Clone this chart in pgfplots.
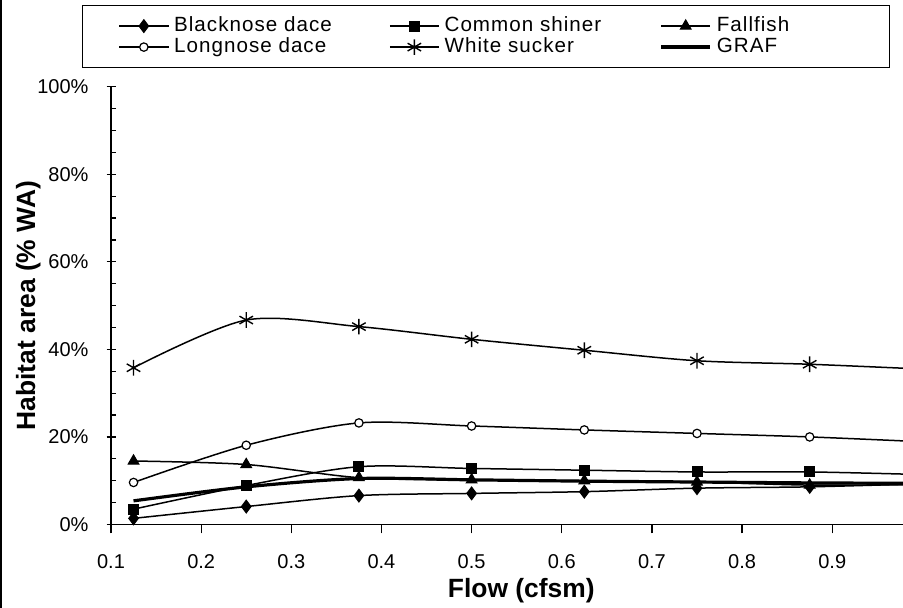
\documentclass[border=0pt]{standalone}
\usepackage{pgfplots}
\pgfplotsset{compat=1.18}
\usepackage{fontspec}
\setmainfont{Liberation Sans}

% flow (cfsm) vs habitat area (% WA)
\pgfplotstableread{
x      bnd   csh   ffi   lnd   wsu   graf
0.125  1.4   3.5   14.5  9.6   35.8  5.4
0.25   4.1   8.9   13.7  18.1  46.7  8.6
0.375  6.6   13.2  10.7  23.2  45.2  10.5
0.5    7.1   12.8  10.2  22.5  42.3  10.2
0.625  7.5   12.4  10.0  21.6  39.8  9.9
0.75   8.3   12.0  9.7   20.8  37.4  9.7
0.875  8.6   12.0  9.0   20.0  36.6  9.5
1.0    9.3   11.4  9.1   18.9  35.5  9.4
}\habitat

\begin{document}
\begin{tikzpicture}
\draw[line width=1pt] (0.5pt,0pt) -- (0.5pt,304pt);
\begin{axis}[
  at={(55.5pt,41.75pt)}, anchor=south west,
  width=396pt, height=218.9pt, scale only axis,
  xmin=0.1, xmax=0.9785, ymin=0, ymax=100,
  axis x line=bottom, axis y line=left,
  axis line style={-, line width=0.6pt},
  xtick={0.1,0.2,0.3,0.4,0.5,0.6,0.7,0.8,0.9},
  xticklabels={0.1,0.2,0.3,0.4,0.5,0.6,0.7,0.8,0.9},
  ytick={0,20,40,60,80,100},
  yticklabels={0\%,20\%,40\%,60\%,80\%,100\%},
  minor y tick num=3,
  xtick align=outside, ytick align=center,
  major tick length=4.5pt, minor tick length=2.5pt,
  tick style={black, line width=0.6pt},
  minor y tick style={xshift=1.25pt},
  ticklabel style={font=\fontsize{10}{12}\selectfont},
  xticklabel style={yshift=-7pt},
  yticklabel style={xshift=-5.5pt},
  xlabel={\textbf{Flow (cfsm)}},
  ylabel={\textbf{Habitat area (\% WA)}},
  label style={font=\fontsize{13.2}{15}\selectfont},
  xlabel style={at={(axis description cs:0.518,0)}, anchor=base, yshift=-36.75pt},
  ylabel style={at={(axis description cs:-0.1045,0.5)}, anchor=center, rotate=0},
  legend columns=3,
  legend style={at={(axis description cs:-0.0366,1.1866)}, anchor=north west,
    draw=black, line width=0.6pt,
    font=\fontsize{10.3}{12}\selectfont\addfontfeature{LetterSpace=5},
    inner xsep=18pt, inner ysep=5.5pt, row sep=1pt, column sep=0pt,
    nodes={inner xsep=2.5pt, inner ysep=0pt, text height=7.5pt, text depth=2pt}},
  legend image code/.code={\draw[mark repeat=2,mark phase=2,#1] plot coordinates {(0pt,0pt) (12.25pt,0pt) (24.5pt,0pt)};},
  every axis plot/.append style={black, line width=0.75pt, smooth},
]
\addplot[mark=diamond*, mark size=3.2pt, mark options={solid, fill=black, line width=0.5pt}] table[x=x, y=bnd] {\habitat};
\addlegendentry{\makebox[105pt][l]{Blacknose dace}}
\addplot[mark=square*, mark size=2.5pt, mark options={solid, fill=black, line width=0.5pt}] table[x=x, y=csh] {\habitat};
\addlegendentry{\makebox[105pt][l]{Common shiner}}
\addplot[mark=triangle*, mark size=3.1pt, mark options={solid, fill=black, line width=0.5pt}] table[x=x, y=ffi] {\habitat};
\addlegendentry{\makebox[66pt][l]{Fallfish}}
\addplot[mark=*, mark size=2.1pt, mark options={solid, fill=white, line width=0.6pt}] table[x=x, y=lnd] {\habitat};
\addlegendentry{\makebox[105pt][l]{Longnose dace}}
\addplot[mark=asterisk, mark size=3.9pt, mark options={solid, line width=0.7pt}] table[x=x, y=wsu] {\habitat};
\addlegendentry{\makebox[105pt][l]{White sucker}}
\addplot[line width=1.6pt] table[x=x, y=graf] {\habitat};
\addlegendentry{\makebox[66pt][l]{GRAF}}
\end{axis}
\pgfresetboundingbox
\path (0,0) rectangle (451.5pt,304pt);
\end{tikzpicture}
\end{document}
